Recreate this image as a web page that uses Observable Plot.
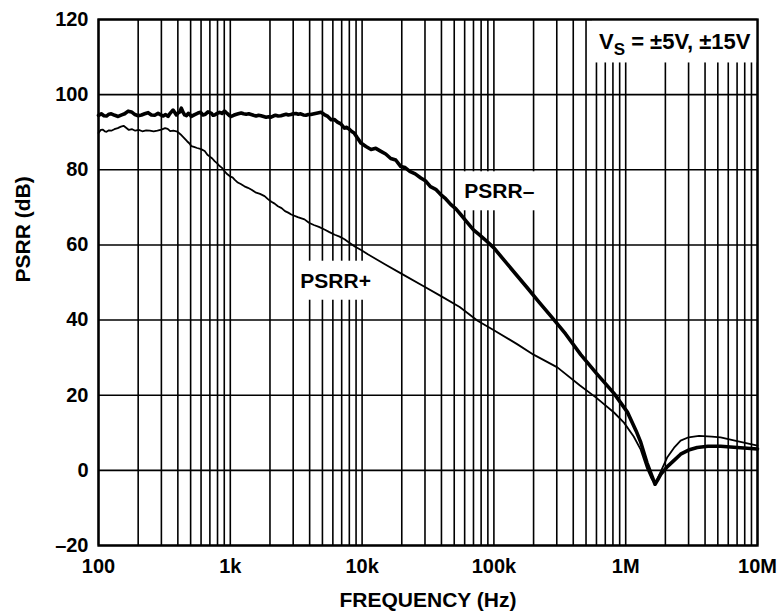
<!DOCTYPE html>
<html>
<head>
<meta charset="utf-8">
<script src="https://cdn.jsdelivr.net/npm/d3@7"></script>
<script src="https://cdn.jsdelivr.net/npm/@observablehq/plot@0.6"></script>
<style>
  html, body { margin: 0; padding: 0; background: #fff; }
  #chart { width: 778px; height: 616px; }
</style>
</head>
<body>
<div id="chart"></div>
<script>
// ---- data ----
const psrrMinusFreq = [100,105,110,115,120,125,133,141,150,158,168,178,189,200,212,224,238,252,267,283,297,310,323,337,347,357,368,380,390,401,413,425,438,451,465,480,492,506,537,568,594,620,648,677,698,720,740,760,795,830,866,904,930,960,987,1015,1060,1100,1150,1210,1260,1320,1380,1440,1500,1570,1640,1710,1790,1870,1950,2035,2120,2200,2310,2420,2530,2650,2760,2880,3010,3150,3280,3420,3580,3750,3910,4070,4330,4600,4880,5170,5490,5820,6150,6500,6900,7340,7650,8000,8350,8700,9200,9800,10700,11700,12700,13900,15100,16500,18000,19600,21200,23000,25300,27900,30400,33000,36200,39500,43000,47000,51500,56000,62000,70000,77000,85000,100000,130000,179000,220000,285000,350000,456000,600000,815000,1030000,1200000,1300000,1450000,1580000,1670000,1750000,1850000,2070000,2350000,2610000,3000000,3490000,4200000,5250000,7000000,10000000];
const psrrMinusDb = [94.5,94.9,94.4,94.3,94.8,94.9,94.5,94.2,94.6,94.9,95.6,95.4,94.7,94.4,94.6,94.9,95.2,94.6,94.5,95.0,94.6,94.3,94.7,94.2,94.9,95.4,95.9,95.2,94.6,95.1,95.4,96.4,95.3,94.6,94.4,95.0,94.8,94.2,94.7,95.1,95.3,94.6,94.8,95.4,95.2,95.0,94.5,94.6,95.0,95.3,95.0,95.6,95.2,94.8,94.4,94.2,94.5,94.7,94.9,95.1,94.9,94.8,94.9,94.7,94.5,94.3,94.5,94.4,94.2,94.0,94.1,94.0,94.3,94.5,94.3,94.4,94.6,94.8,94.6,94.7,94.9,95.0,94.8,94.9,94.6,94.5,94.7,94.7,94.9,95.1,95.3,94.7,94.2,93.3,93.4,92.7,92.2,91.1,91.3,90.8,90.2,89.8,88.5,87.1,86.2,85.4,85.7,84.9,84.2,83.0,82.6,80.9,80.6,79.6,78.9,77.8,77.0,75.5,74.8,73.4,72.3,70.8,69.6,68.1,66.2,64.0,62.8,61.5,59.2,54.4,48.6,44.8,40.1,36.3,30.8,25.8,20.5,15.5,10.5,7.5,2.0,-1.5,-3.7,-2.5,-1.0,1.0,2.8,4.3,5.4,6.1,6.4,6.4,6.1,5.7];

const psrrPlusFreq = [100,104,108,112,115,120,125,132,140,148,155,162,170,180,190,202,215,230,245,262,280,300,320,335,350,370,390,405,420,445,470,490,506,530,560,600,639,670,700,730,760,795,830,865,905,950,1000,1040,1078,1140,1200,1280,1361,1450,1550,1680,1820,1930,2050,2170,2297,2450,2600,2750,2900,3250,3655,3950,4300,4700,5180,5650,6200,6750,7350,8000,8800,9900,11050,15000,20000,30000,40000,55000,75200,100000,150000,200000,303000,450000,600000,815000,970000,1150000,1300000,1450000,1570000,1670000,1780000,2070000,2350000,2610000,3000000,3600000,4500000,5250000,7000000,10000000];
const psrrPlusDb = [89.8,90.6,90.7,90.2,90.1,90.5,90.4,90.8,91.1,91.5,91.7,91.2,90.6,90.8,90.4,90.6,90.25,90.5,90.4,90.2,90.4,90.7,91.1,90.9,90.3,90.4,90.25,89.9,89.4,88.5,87.6,87.0,86.3,86.1,85.8,85.5,85.0,84.0,83.5,83.0,82.3,81.7,81.0,80.5,79.6,78.8,78.2,78.0,77.4,76.6,76.2,75.6,75.2,74.7,74.0,73.6,73.0,72.2,71.5,71.0,70.3,69.8,69.0,68.6,68.1,67.4,66.8,65.9,65.3,64.8,64.1,63.4,62.7,62.2,61.5,60.6,59.6,58.6,57.5,54.8,52.3,48.8,46.3,43.5,39.8,37.3,33.6,30.8,27.4,22.6,19.3,15.4,12.7,9.0,5.5,0.5,-2.2,-3.7,-1.5,3.5,6.2,7.9,8.8,9.2,9.0,8.8,7.8,6.6];

const xTicks = [100, 1e3, 1e4, 1e5, 1e6, 1e7];
const xTickLabels = ["100", "1k", "10k", "100k", "1M", "10M"];
const yTicks = [-20, 0, 20, 40, 60, 80, 100, 120];
const decades = [100, 1e3, 1e4, 1e5, 1e6];
const multipliers = [1, 2, 3, 4, 5, 6, 7, 8, 9];

const curveLabels = ["PSRR–", "PSRR+"];
const curveLabelFreq = [110000, 6300];
const curveLabelDb = [74.2, 50.4];

const condFreq = 1e7;
const condDb = 113.9;

const xTitle = "FREQUENCY (Hz)";
const yTitle = "PSRR (dB)";

// ---- build tables ----
const minus = psrrMinusFreq.map((f, i) => ({f, db: psrrMinusDb[i]}));
const plus = psrrPlusFreq.map((f, i) => ({f, db: psrrPlusDb[i]}));
const gridFreqs = decades.flatMap(d => multipliers.map(m => m * d)).concat([1e7]);
const labelsData = curveLabels.map((t, i) => ({t, f: curveLabelFreq[i], db: curveLabelDb[i]}));

const FONT = "'Liberation Sans', Arial, Helvetica, sans-serif";

const chart = Plot.plot({
  width: 778,
  height: 616,
  marginLeft: 98,
  marginRight: 21,
  marginTop: 19,
  marginBottom: 71,
  style: {fontFamily: FONT, fontSize: "20px", fontWeight: "bold", background: "#fff", color: "#000"},
  x: {type: "log", domain: [100, 1e7]},
  y: {domain: [-20, 120]},
  marks: [
    Plot.ruleX(gridFreqs, {stroke: "#000", strokeWidth: 1.6, className: "grid"}),
    Plot.ruleY(yTicks, {stroke: "#000", strokeWidth: 1.6, className: "grid"}),
    Plot.line(plus, {x: "f", y: "db", stroke: "#000", strokeWidth: 1.8, className: "curves"}),
    Plot.line(minus, {x: "f", y: "db", stroke: "#000", strokeWidth: 3.6}),
    Plot.text(labelsData, {x: "f", y: "db", text: "t", fill: "#000", fontSize: 21, fontWeight: "bold", className: "boxed"}),
    Plot.text(["cond"], {x: () => condFreq, y: () => condDb, text: d => d, textAnchor: "end", dx: -7, fill: "#000", fontSize: 22, fontWeight: "bold", className: "cond"}),
    Plot.axisX(xTicks, {tickSize: 0, tickPadding: 13, tickFormat: d => xTickLabels[xTicks.indexOf(d)], fontSize: 20, fontWeight: "bold", fill: "#000", label: null}),
    Plot.axisY(yTicks, {tickSize: 0, tickPadding: 10, tickFormat: d => d < 0 ? "–" + (-d) : String(d), fontSize: 20, fontWeight: "bold", fill: "#000", label: null}),
    Plot.text([xTitle], {frameAnchor: "bottom", dy: 61, text: d => d, fontSize: 21, fontWeight: "bold", fill: "#000"}),
    Plot.text([yTitle], {frameAnchor: "left", dx: -75, rotate: -90, text: d => d, fontSize: 21, fontWeight: "bold", fill: "#000"}),
    Plot.frame({stroke: "#000", strokeWidth: 2.4})
  ]
});

document.getElementById("chart").appendChild(chart);

// condition label with subscript S
const condTextEl = chart.querySelector("g.cond text");
if (condTextEl) {
  condTextEl.textContent = "";
  const ns = "http://www.w3.org/2000/svg";
  const t1 = document.createElementNS(ns, "tspan"); t1.textContent = "V";
  const t2 = document.createElementNS(ns, "tspan"); t2.textContent = "S"; t2.setAttribute("dy", "6"); t2.setAttribute("font-size", "17");
  const t3 = document.createElementNS(ns, "tspan"); t3.textContent = " = ±5V, ±15V"; t3.setAttribute("dy", "-6");
  condTextEl.append(t1, t2, t3);
}

// white boxes behind labels (mask the grid), placed just above the grid
const svgRect = chart.getBoundingClientRect();
const curvesG = chart.querySelector("g.curves");
const xs = chart.scale("x"), ys = chart.scale("y");
function addBox(x0, y0, x1, y1) {
  const r = document.createElementNS("http://www.w3.org/2000/svg", "rect");
  r.setAttribute("x", x0); r.setAttribute("y", y0);
  r.setAttribute("width", x1 - x0); r.setAttribute("height", y1 - y0);
  r.setAttribute("fill", "#fff");
  curvesG.parentNode.insertBefore(r, curvesG);
}
chart.querySelectorAll("g.boxed text").forEach(t => {
  const b = t.getBoundingClientRect();
  addBox(b.left - svgRect.left - 5, b.top - svgRect.top - 8, b.right - svgRect.left + 5, b.bottom - svgRect.top + 8);
});
if (condTextEl) {
  const b = condTextEl.getBoundingClientRect();
  addBox(b.left - svgRect.left - 7, ys.apply(120), xs.apply(1e7), b.bottom - svgRect.top + 3);
}
</script>
</body>
</html>
